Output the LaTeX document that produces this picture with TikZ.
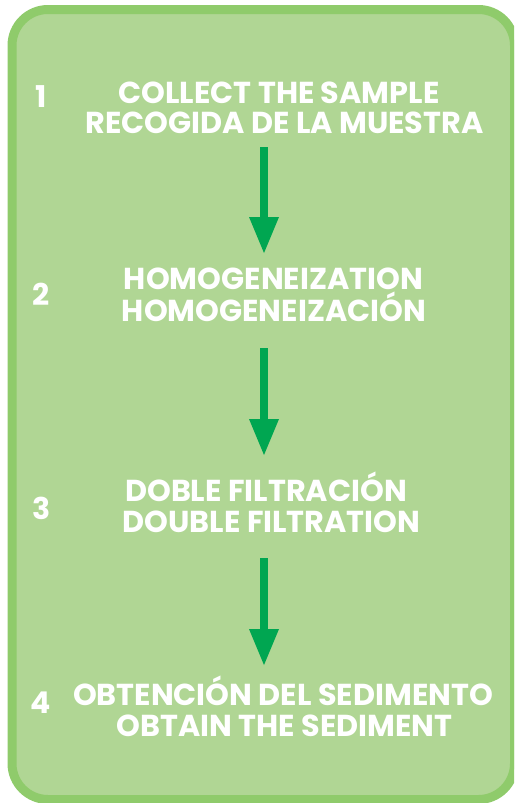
\documentclass[tikz,border=0pt]{standalone}
\usepackage{fontspec}
\setmainfont{Poppins}
\usetikzlibrary{
arrows.meta,%
positioning%
}
\definecolor{boxfill}{HTML}{B0D694}
\definecolor{boxrim}{HTML}{8FCB6B}
\definecolor{flowgreen}{HTML}{00A651}
\tikzset{
    steptext/.style={text=white, font=\bfseries\fontsize{30.3}{32}\selectfont, inner sep=0pt, anchor=base},
    stepnum/.style={text=white, font=\bfseries\fontsize{30}{32}\selectfont, inner sep=0pt},
    flow/.style={draw=flowgreen, line width=8pt, -{Triangle[length=36pt,width=30pt,line width=0pt]}},
    frame/.style={draw=boxrim, fill=boxfill, line width=9pt, rounded corners=36pt}
}

\begin{document}
\begin{tikzpicture}[x=1pt, y=-1pt]
            \useasboundingbox (0,0) rectangle (514,803);
            \clip (0,0) rectangle (514,803);
            \path[frame] (12,9.5) rectangle (514.5,799.5);
            % ----
            \node[steptext] (s1en) at (279,103) {COLLECT THE SAMPLE};
            \node[steptext] (s1es) at (284.5,133) {RECOGIDA DE LA MUESTRA};
            \node[steptext] (s2en) at (273.5,289) {HOMOGENEIZATION};
            \node[steptext] (s2es) at (274,321) {HOMOGENEIZACIÓN};
            \node[steptext] (s3es) at (266,501) {DOBLE FILTRACIÓN};
            \node[steptext] (s3en) at (271.5,532) {DOUBLE FILTRATION};
            \node[steptext] (s4es) at (283,705) {OBTENCIÓN DEL SEDIMENTO};
            \node[steptext] (s4en) at (284.5,736) {OBTAIN THE SEDIMENT};
            % ----
            \node[stepnum] (n1) at (41,97) {1};
            \node[stepnum] (n2) at (41,294) {2};
            \node[stepnum] (n3) at (42,508) {3};
            \node[stepnum] (n4) at (41,703) {4};
            % ----
            \coordinate (ax) at (264,0);
            \draw[flow, shorten <=14pt, shorten >=36pt] (s1es.base -| ax) -- (s2en.base -| ax);
            \draw[flow, shorten <=27pt, shorten >=46pt] (s2es.base -| ax) -- (s3es.base -| ax);
            \draw[flow, shorten <=26pt, shorten >=40pt] (s3en.base -| ax) -- (s4es.base -| ax);
\end{tikzpicture}
\end{document}
